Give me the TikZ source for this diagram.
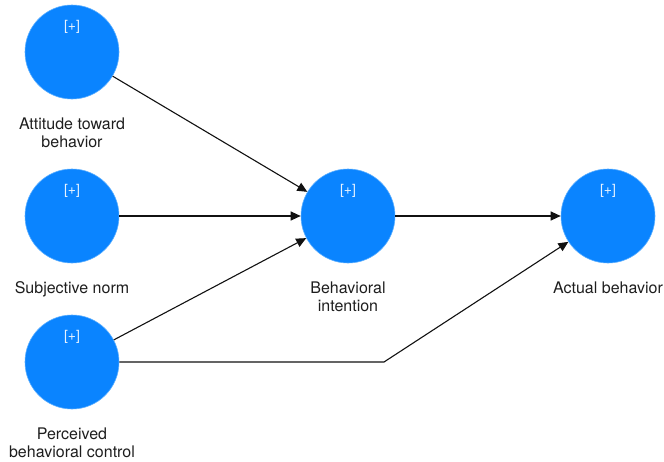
\documentclass[tikz,border=0pt]{standalone}
\usepackage{fontspec}
\setmainfont{TeX Gyre Heros}
\usetikzlibrary{positioning, arrows.meta}
\definecolor{latblue}{HTML}{0A84FF}
\definecolor{latrim}{HTML}{5AAEFF}
\definecolor{ink}{HTML}{111111}
\definecolor{capink}{HTML}{1E1E1E}
\tikzset{
  lat/.style={circle, fill=latblue, draw=latrim, line width=0.6pt,
              minimum size=94pt, inner sep=0pt},
  plus/.style={font=\fontsize{14}{16}\selectfont, text=white!90!latblue, inner sep=0pt},
  lbl/.style={align=center, font=\fontsize{16}{18}\selectfont, text=capink, inner sep=0pt},
  link/.style={-{Triangle[length=10pt,width=9pt]}, line width=1.1pt, draw=ink},
}
\begin{document}
\begin{tikzpicture}[x=1pt, y=-1pt]
  \useasboundingbox (0,0) rectangle (664,461);
  % latent variables
  \node[lat] (att) at (72,52) {};
  \node[lat] (sn)  at (72,216) {};
  \node[lat] (pbc) at (72,362) {};
  \node[lat] (bi)  at (348,216) {};
  \node[lat] (ab)  at (608,216) {};
  % [+] markers
  \node[plus, below=15pt of att.north] (attp) {[+]};
  \node[plus, below=15pt of sn.north]  (snp)  {[+]};
  \node[plus, below=15pt of pbc.north] (pbcp) {[+]};
  \node[plus, below=15pt of bi.north]  (bip)  {[+]};
  \node[plus, below=15pt of ab.north]  (abp)  {[+]};
  % captions
  \node[lbl, below=18pt of att] (attl) {Attitude toward\\behavior};
  \node[lbl, below=18pt of sn]  (snl)  {Subjective norm};
  \node[lbl, below=18pt of pbc] (pbcl) {Perceived\\behavioral control};
  \node[lbl, below=18pt of bi]  (bil)  {Behavioral\\intention};
  \node[lbl, below=18pt of ab]  (abl)  {Actual behavior};
  % paths
  \coordinate (bend) at (384,362);
  \draw[link] (att) -- (bi);
  \draw[link] (sn) -- (bi);
  \draw[link] (pbc) -- (bi);
  \draw[link] (bi) -- (ab);
  \draw[link] (pbc) -- (bend) -- (ab);
\end{tikzpicture}
\end{document}
